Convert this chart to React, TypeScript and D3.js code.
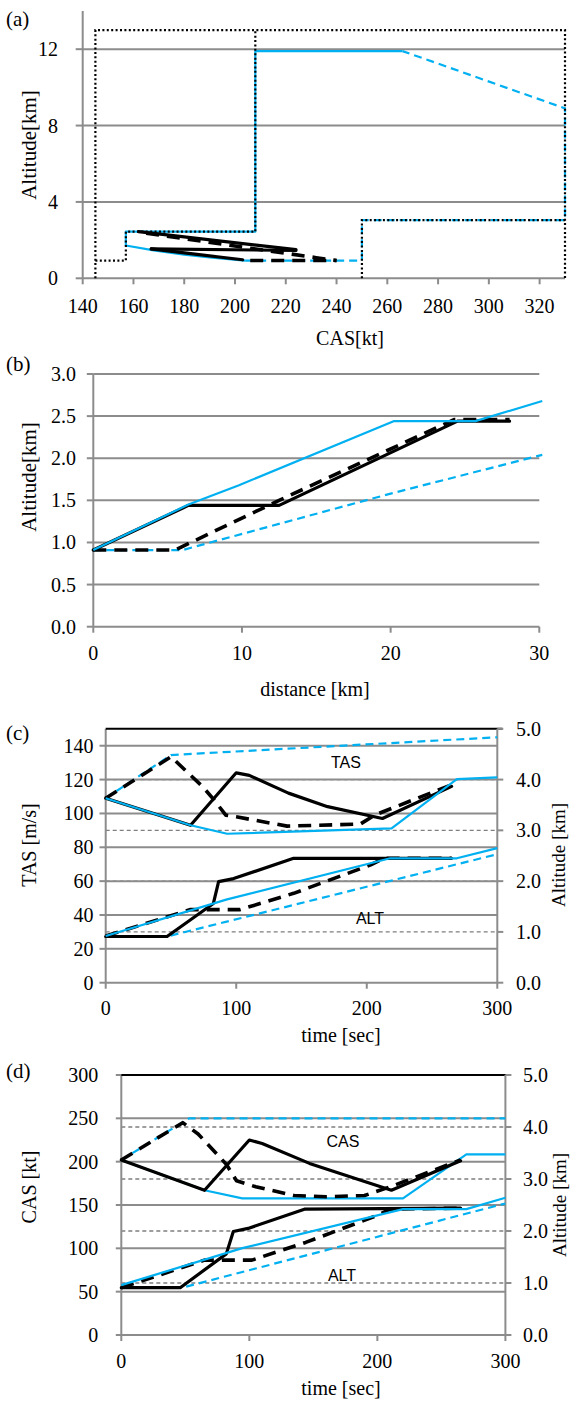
import React from 'react';
import * as d3 from 'd3';

type Pt = [number, number];

// ---------- Panel (a): CAS [kt] vs Altitude [km] ----------
const aXTicks = [140, 160, 180, 200, 220, 240, 260, 280, 300, 320];
const aYTicks = [0, 4, 8, 12];
const aEnvOuter: Pt[] = [[145, 0], [145, 13], [330, 13], [330, 0]];
const aEnvMin: Pt[] = [[145, 0.93], [157, 0.93], [157, 2.44], [208, 2.44], [208, 13]];
const aEnvMax: Pt[] = [[250, 0], [250, 3.05], [330, 3.05]];
const aBlueSolid: Pt[] = [[204, 0.93], [191, 1.08], [180, 1.24], [168, 1.46], [157, 1.72], [157, 2.44], [208, 2.44], [208, 11.9], [266, 11.9]];
const aBlueDash: Pt[] = [[204, 0.93], [250, 0.93], [250, 3.05], [330, 3.05], [330, 8.9], [266, 11.9]];
const aBlackSolid1: Pt[] = [[162, 2.44], [224, 1.5]];
const aBlackSolid2: Pt[] = [[167, 1.54], [224, 1.46]];
const aBlackSolid3: Pt[] = [[167, 1.54], [185, 1.25], [203, 0.97]];
const aBlackDash1: Pt[] = [[165, 2.36], [232, 1.08], [240, 0.93]];
const aBlackDash2: Pt[] = [[206, 0.93], [240, 0.93]];

// ---------- Panel (b): distance [km] vs Altitude [km] ----------
const bXTicks = [0, 10, 20, 30];
const bYTicks = [0, 0.5, 1.0, 1.5, 2.0, 2.5, 3.0];
const bBlueSolid: Pt[] = [[0, 0.91], [6.4, 1.45], [9.8, 1.68], [20.2, 2.44], [25.7, 2.44], [30.2, 2.68]];
const bBlackSolid: Pt[] = [[0, 0.91], [6.4, 1.44], [12.5, 1.44], [24.5, 2.44], [28, 2.44]];
const bBlackDash: Pt[] = [[0, 0.91], [5.5, 0.91], [12.5, 1.5], [24.3, 2.46], [28, 2.46]];
const bBlueDash: Pt[] = [[0, 0.91], [6, 0.91], [20, 1.58], [30.2, 2.04]];

// ---------- Panel (c): time [sec] vs TAS [m/s] / Altitude [km] ----------
const cXTicks = [0, 100, 200, 300];
const cYTicks = [0, 20, 40, 60, 80, 100, 120, 140];
const cRTicks = [0, 1, 2, 3, 4, 5];
const cTasBlueDash: Pt[] = [[0, 109], [50, 134.5], [300, 145]];
const cTasBlackDash: Pt[] = [[0, 109], [50, 133.5], [74, 116], [83, 108], [92, 99], [100, 98], [139, 92.5], [195, 93.7], [206, 99], [265, 117]];
const cTasBlackSolid: Pt[] = [[0, 109], [65, 93], [100, 124], [110, 122.5], [140, 112], [170, 104], [212, 97], [265, 116]];
const cTasBlueSolid: Pt[] = [[0, 109], [65, 93], [93, 88], [219, 91.2], [269, 120.3], [300, 121.3]];
const cAltBlackSolid: Pt[] = [[0, 0.91], [47, 0.91], [82.5, 1.56], [86.5, 1.99], [98, 2.05], [144, 2.45], [265, 2.45]];
const cAltBlueSolid: Pt[] = [[0, 0.92], [93, 1.64], [218, 2.45], [269, 2.45], [300, 2.65]];
const cAltBlackDash: Pt[] = [[0, 0.92], [65, 1.44], [103, 1.44], [144, 1.76], [203, 2.32], [213, 2.45], [265, 2.45]];
const cAltBlueDash: Pt[] = [[0, 0.91], [47, 0.91], [300, 2.53]];

// ---------- Panel (d): time [sec] vs CAS [kt] / Altitude [km] ----------
const dXTicks = [0, 100, 200, 300];
const dYTicks = [0, 50, 100, 150, 200, 250, 300];
const dRTicks = [0, 1, 2, 3, 4, 5];
const dCasBlueDash: Pt[] = [[0, 202], [53, 250], [300, 250]];
const dCasBlackDash: Pt[] = [[0, 202], [48, 245], [60, 232], [82, 197], [90, 178], [105, 171], [135, 161], [160, 159.5], [190, 161], [210, 171], [265, 202]];
const dCasBlackSolid: Pt[] = [[0, 202], [65, 167], [100, 225], [110, 221], [147, 198], [190, 177], [211, 167], [265, 201]];
const dCasBlueSolid: Pt[] = [[0, 202], [65, 167], [94.5, 157.7], [220, 157.7], [269.5, 208.5], [300, 208.5]];
const dAltBlackSolid: Pt[] = [[0, 0.91], [46, 0.91], [82, 1.56], [87.5, 1.99], [99, 2.05], [143, 2.42], [265, 2.44]];
const dAltBlueSolid: Pt[] = [[0, 0.96], [94.5, 1.67], [220, 2.42], [269.5, 2.42], [300, 2.64]];
const dAltBlackDash: Pt[] = [[0, 0.91], [65, 1.44], [102, 1.44], [144, 1.78], [200, 2.3], [210, 2.42], [265, 2.44]];
const dAltBlueDash: Pt[] = [[0, 0.91], [47.5, 0.91], [300, 2.53]];

const SERIF = '"Liberation Serif", "Times New Roman", serif';
const SANS = '"Liberation Sans", Arial, sans-serif';
const GRID = '#8c8c8c';
const BLUE = '#00b0f0';

const ST: Record<string, React.SVGProps<SVGPathElement>> = {
  blackSolid: { stroke: '#000', strokeWidth: 3.2, fill: 'none', strokeLinejoin: 'round', strokeLinecap: 'round' },
  blackDash: { stroke: '#000', strokeWidth: 3.6, fill: 'none', strokeDasharray: '13 8', strokeLinejoin: 'round' },
  blueSolid: { stroke: BLUE, strokeWidth: 2.2, fill: 'none', strokeLinejoin: 'round' },
  blueDash: { stroke: BLUE, strokeWidth: 2.2, fill: 'none', strokeDasharray: '8 5' },
  dotted: { stroke: '#000', strokeWidth: 2.2, fill: 'none', strokeDasharray: '2 2.4' },
};

function mk(x: d3.ScaleLinear<number, number>, y: d3.ScaleLinear<number, number>) {
  const g = d3.line<Pt>().x(d => x(d[0])).y(d => y(d[1]));
  return (data: Pt[]) => g(data) || '';
}

interface AxProps {
  x: d3.ScaleLinear<number, number>;
  y: d3.ScaleLinear<number, number>;
  xTicks: number[];
  yTicks: number[];
  yFmt: (v: number) => string;
  yLabelX: number;
  xLabelY: number;
  tickLen: number;
  grid: number[];
}

function Axes({ x, y, xTicks, yTicks, yFmt, yLabelX, xLabelY, tickLen, grid }: AxProps) {
  const [x0, x1] = x.range();
  const [y0, y1] = y.range();
  return (
    <g>
      {grid.map(v => (
        <line key={'g' + v} x1={x0} x2={x1} y1={y(v)} y2={y(v)} stroke={GRID} strokeWidth={2} />
      ))}
      <line x1={x0} x2={x0} y1={y0} y2={y1} stroke={GRID} strokeWidth={2} />
      <line x1={x0} x2={x1} y1={y0} y2={y0} stroke={GRID} strokeWidth={2} />
      {yTicks.map(v => (
        <g key={'y' + v}>
          <line x1={x0 - tickLen} x2={x0} y1={y(v)} y2={y(v)} stroke={GRID} strokeWidth={2} />
          <text x={yLabelX} y={y(v)} dy="0.35em" textAnchor="end" fontFamily={SERIF} fontSize={20}>{yFmt(v)}</text>
        </g>
      ))}
      {xTicks.map(v => (
        <g key={'x' + v}>
          <line x1={x(v)} x2={x(v)} y1={y0} y2={y0 + 6} stroke={GRID} strokeWidth={2} />
          <text x={x(v)} y={xLabelY} textAnchor="middle" fontFamily={SERIF} fontSize={20}>{v}</text>
        </g>
      ))}
    </g>
  );
}

function PanelA() {
  const x = d3.scaleLinear().domain([140, 330]).range([82.7, 565]);
  const y = d3.scaleLinear().domain([0, 14]).range([278.3, 11]);
  const p = mk(x, y);
  return (
    <g>
      <Axes x={x} y={y} xTicks={aXTicks} yTicks={aYTicks} yFmt={v => String(v)} yLabelX={58} xLabelY={313} tickLen={7} grid={[4, 8, 12]} />
      <path d={p(aBlueSolid)} {...ST.blueSolid} />
      <path d={p(aBlueDash)} {...ST.blueDash} />
      <path d={p(aBlackSolid3)} {...ST.blackSolid} />
      <path d={p(aBlackSolid1)} {...ST.blackSolid} />
      <path d={p(aBlackSolid2)} {...ST.blackSolid} />
      <path d={p(aBlackDash1)} {...ST.blackDash} />
      <path d={p(aBlackDash2)} {...ST.blackDash} />
      <path d={p(aEnvOuter)} {...ST.dotted} />
      <path d={p(aEnvMin)} {...ST.dotted} />
      <path d={p(aEnvMax)} {...ST.dotted} />
      <text x={6} y={26} fontFamily={SERIF} fontSize={21}>(a)</text>
      <text x={350} y={345} textAnchor="middle" fontFamily={SERIF} fontSize={20}>CAS[kt]</text>
      <text transform="translate(36,145) rotate(-90)" textAnchor="middle" fontFamily={SERIF} fontSize={21}>Altitude[km]</text>
    </g>
  );
}

function PanelB() {
  const x = d3.scaleLinear().domain([0, 30]).range([93.3, 539.3]);
  const y = d3.scaleLinear().domain([0, 3]).range([626.7, 374]);
  const p = mk(x, y);
  return (
    <g>
      <Axes x={x} y={y} xTicks={bXTicks} yTicks={bYTicks} yFmt={v => v.toFixed(1)} yLabelX={76} xLabelY={660} tickLen={6.5} grid={[0.5, 1, 1.5, 2, 2.5, 3]} />
      <path d={p(bBlueDash)} {...ST.blueDash} />
      <path d={p(bBlackSolid)} {...ST.blackSolid} />
      <path d={p(bBlackDash)} {...ST.blackDash} />
      <path d={p(bBlueSolid)} {...ST.blueSolid} />
      <text x={6} y={371} fontFamily={SERIF} fontSize={21}>(b)</text>
      <text x={315} y={696} textAnchor="middle" fontFamily={SERIF} fontSize={20}>distance [km]</text>
      <text transform="translate(36,477) rotate(-90)" textAnchor="middle" fontFamily={SERIF} fontSize={21}>Altitude[km]</text>
    </g>
  );
}

interface TwinProps {
  x: d3.ScaleLinear<number, number>;
  y: d3.ScaleLinear<number, number>;
  yR: d3.ScaleLinear<number, number>;
  yTicks: number[];
  rTicks: number[];
  xTicks: number[];
  yLabelX: number;
  rLabelX: number;
  xLabelY: number;
  tickLen: number;
  grid: number[];
  yTop: number;
}

function TwinAxes({ x, y, yR, yTicks, rTicks, xTicks, yLabelX, rLabelX, xLabelY, tickLen, grid, yTop }: TwinProps) {
  const [x0, x1] = x.range();
  return (
    <g>
      {rTicks.filter(v => v > 0 && v < 5).map(v => (
        <line key={'rd' + v} x1={x0} x2={x1} y1={yR(v)} y2={yR(v)} stroke="#7f7f7f" strokeWidth={1.4} strokeDasharray="4 3" />
      ))}
      <Axes x={x} y={y} xTicks={xTicks} yTicks={yTicks} yFmt={v => String(v)} yLabelX={yLabelX} xLabelY={xLabelY} tickLen={tickLen} grid={grid} />
      <line x1={x0} x2={x1 + 5} y1={y(yTop)} y2={y(yTop)} stroke="#000" strokeWidth={2} />
      <line x1={x1} x2={x1} y1={y.range()[0]} y2={y(yTop)} stroke={GRID} strokeWidth={2} />
      {rTicks.map(v => (
        <g key={'r' + v}>
          <line x1={x1} x2={x1 + 6} y1={yR(v)} y2={yR(v)} stroke={GRID} strokeWidth={2} />
          <text x={rLabelX} y={yR(v)} dy="0.35em" fontFamily={SERIF} fontSize={20}>{v.toFixed(1)}</text>
        </g>
      ))}
    </g>
  );
}

function PanelC() {
  const x = d3.scaleLinear().domain([0, 300]).range([105.7, 497.3]);
  const y = d3.scaleLinear().domain([0, 150]).range([982.7, 728.8]);
  const yR = d3.scaleLinear().domain([0, 5]).range([982.7, 728.8]);
  const p = mk(x, y);
  const pr = mk(x, yR);
  return (
    <g>
      <TwinAxes x={x} y={y} yR={yR} yTicks={cYTicks} rTicks={cRTicks} xTicks={cXTicks} yLabelX={93.5} rLabelX={516} xLabelY={1015} tickLen={6.2} grid={[20, 40, 60, 80, 100, 120, 140]} yTop={150} />
      <path d={p(cTasBlueDash)} {...ST.blueDash} />
      <path d={p(cTasBlackSolid)} {...ST.blackSolid} />
      <path d={p(cTasBlackDash)} {...ST.blackDash} />
      <path d={p(cTasBlueSolid)} {...ST.blueSolid} />
      <path d={pr(cAltBlueDash)} {...ST.blueDash} />
      <path d={pr(cAltBlackSolid)} {...ST.blackSolid} />
      <path d={pr(cAltBlackDash)} {...ST.blackDash} />
      <path d={pr(cAltBlueSolid)} {...ST.blueSolid} />
      <text x={346} y={768} textAnchor="middle" fontFamily={SANS} fontSize={16}>TAS</text>
      <text x={370} y={924} textAnchor="middle" fontFamily={SANS} fontSize={16}>ALT</text>
      <text x={6} y={740} fontFamily={SERIF} fontSize={21}>(c)</text>
      <text x={341} y={1042} textAnchor="middle" fontFamily={SERIF} fontSize={20}>time [sec]</text>
      <text transform="translate(36,845) rotate(-90)" textAnchor="middle" fontFamily={SERIF} fontSize={20}>TAS [m/s]</text>
      <text transform="translate(565,855) rotate(-90)" textAnchor="middle" fontFamily={SERIF} fontSize={19}>Altitude [km]</text>
    </g>
  );
}

function PanelD() {
  const x = d3.scaleLinear().domain([0, 300]).range([121.3, 505.4]);
  const y = d3.scaleLinear().domain([0, 300]).range([1335, 1075]);
  const yR = d3.scaleLinear().domain([0, 5]).range([1335, 1075]);
  const p = mk(x, y);
  const pr = mk(x, yR);
  return (
    <g>
      <TwinAxes x={x} y={y} yR={yR} yTicks={dYTicks} rTicks={dRTicks} xTicks={dXTicks} yLabelX={98.3} rLabelX={523} xLabelY={1368} tickLen={5.5} grid={[50, 100, 150, 200, 250]} yTop={300} />
      <path d={p(dCasBlueDash)} {...ST.blueDash} />
      <path d={p(dCasBlueSolid)} {...ST.blueSolid} />
      <path d={p(dCasBlackSolid)} {...ST.blackSolid} />
      <path d={p(dCasBlackDash)} {...ST.blackDash} />
      <path d={pr(dAltBlueDash)} {...ST.blueDash} />
      <path d={pr(dAltBlackSolid)} {...ST.blackSolid} />
      <path d={pr(dAltBlackDash)} {...ST.blackDash} />
      <path d={pr(dAltBlueSolid)} {...ST.blueSolid} />
      <text x={343} y={1147} textAnchor="middle" fontFamily={SANS} fontSize={16}>CAS</text>
      <text x={342} y={1281} textAnchor="middle" fontFamily={SANS} fontSize={16}>ALT</text>
      <text x={6} y={1078} fontFamily={SERIF} fontSize={21}>(d)</text>
      <text x={341} y={1395} textAnchor="middle" fontFamily={SERIF} fontSize={20}>time [sec]</text>
      <text transform="translate(36,1187) rotate(-90)" textAnchor="middle" fontFamily={SERIF} fontSize={20}>CAS [kt]</text>
      <text transform="translate(566,1205) rotate(-90)" textAnchor="middle" fontFamily={SERIF} fontSize={19}>Altitude [km]</text>
    </g>
  );
}

export default function App() {
  return (
    <svg width={571} height={1407} style={{ position: 'absolute', left: 0, top: 0, background: '#fff' }}>
      <rect width={571} height={1407} fill="#fff" />
      <PanelA />
      <PanelB />
      <PanelC />
      <PanelD />
    </svg>
  );
}
